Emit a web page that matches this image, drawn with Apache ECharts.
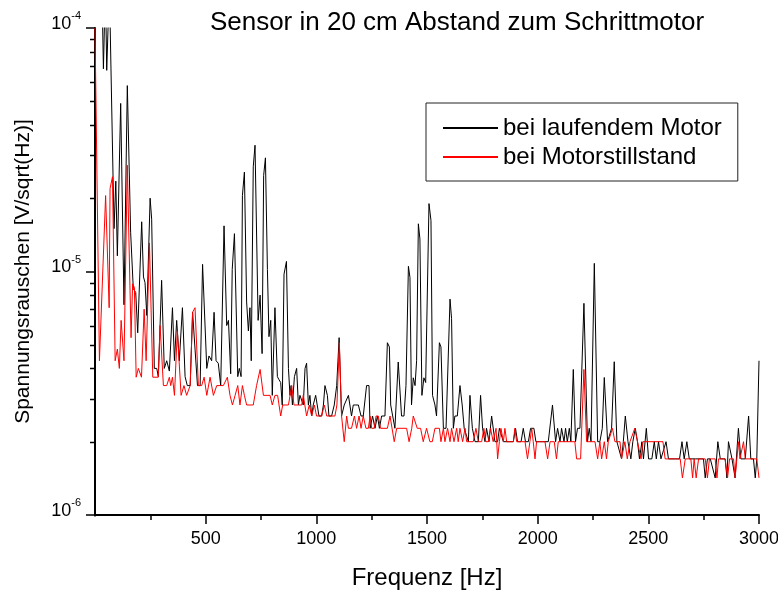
<!DOCTYPE html>
<html><head><meta charset="utf-8">
<script src="https://cdn.jsdelivr.net/npm/echarts@6/dist/echarts.min.js"></script>
<style>html,body{margin:0;padding:0;background:#fff}#c{width:778px;height:592px}</style>
</head><body><div id="c"></div>
<script>
const chartTitle = 'Sensor in 20 cm Abstand zum Schrittmotor';
const xAxisName = 'Frequenz [Hz]';
const yAxisName = 'Spannungsrauschen [V/sqrt(Hz)]';
const seriesNames = ['bei laufendem Motor', 'bei Motorstillstand'];
// values in µV/sqrt(Hz) (1 = 10^-6 V/sqrt(Hz))
const freqMotorOn = [0,12,25,38,47,53,65,86,94,101,116,131,146,161,173,184,193,211,219,226,234,249,256,268,279,286,301,313,324,336,350,359,369,381,395,407,417,430,441,452,463,475,486,505,515,527,538,547,557,568,583,595,603,613,620,630,645,652,660,666,675,685,693,700,706,715,723,737,746,755,762,770,779,786,794,801,813,824,831,839,846,854,865,874,881,886,892,901,911,919,926,934,941,949,956,964,971,979,986,997,1004,1012,1024,1032,1039,1050,1057,1069,1081,1092,1103,1114,1126,1145,1159,1167,1178,1190,1202,1212,1227,1238,1243,1254,1265,1276,1285,1295,1310,1321,1330,1336,1345,1355,1370,1385,1396,1405,1416,1423,1430,1438,1446,1453,1461,1468,1477,1486,1494,1509,1518,1525,1536,1543,1556,1563,1574,1586,1604,1611,1619,1626,1637,1649,1659,1668,1676,1687,1694,1705,1717,1732,1742,1751,1762,1769,1780,1792,1799,1807,1819,1827,1836,1845,1890,1900,1909,1925,1935,1945,1958,1968,1983,1992,2048,2067,2081,2090,2101,2108,2119,2126,2134,2143,2150,2161,2171,2180,2191,2209,2225,2233,2241,2256,2271,2281,2292,2301,2316,2323,2334,2346,2358,2367,2379,2387,2396,2408,2421,2430,2441,2451,2460,2471,2478,2491,2501,2516,2527,2536,2546,2557,2566,2580,2591,2607,2622,2641,2652,2662,2674,2685,2712,2749,2757,2767,2780,2802,2814,2825,2847,2855,2862,2878,2892,2907,2918,2938,2953,2963,2975,2983,2990,3000];
const motorOn = [300,300,300,68,150,67,150,15,23.5,11.6,49,7.3,58,14.5,8.5,8.2,5.6,16,9.5,9.0,6.6,20,16.4,4.0,4.0,3.7,9.2,4.0,4.3,3.9,7.1,4.3,6.3,4.3,7.1,3.7,3.4,3.4,6.8,4.8,3.4,3.4,10.7,4.0,4.5,4.3,6.8,4.3,4.2,3.4,15.4,6.0,6.3,3.8,10.2,14.3,3.7,4.0,3.7,20.5,25.6,7.5,5.7,7.1,4.3,26.9,33,6.3,8.0,4.6,24.8,29.3,10.2,5.4,6.3,3.1,7.1,3.7,3.6,3.5,2.83,9.75,11.0,4.0,3.1,3.4,2.83,3.7,4.0,2.83,3.1,3.1,2.83,4.0,4.2,2.83,3.1,2.55,2.83,3.1,2.83,2.55,2.55,2.83,3.4,3.1,2.55,2.55,2.83,3.4,5.35,2.55,2.83,3.1,2.55,2.83,2.83,2.83,2.55,2.55,3.4,3.4,2.27,2.55,2.27,2.55,2.27,2.55,2.55,5.1,4.9,2.83,2.83,2.27,4.25,2.55,2.55,3.4,10.5,9.45,2.83,3.66,3.4,4.3,15.7,13.6,3.1,3.66,3.5,19,16.2,3.1,2.83,2.55,5.1,4.9,2.27,2.27,7.7,6.4,2.27,2.55,2.55,3.4,2.83,2.27,2.27,2.0,3.1,2.27,2.0,2.0,3.1,2.27,2.0,2.27,2.0,2.55,2.55,2.0,2.0,2.27,2.27,2.0,2.0,2.27,2.0,2.0,2.27,2.0,2.0,2.27,2.27,2.0,2.0,2.83,2.0,2.27,2.0,2.27,2.0,2.27,2.0,2.27,2.0,3.96,2.0,2.27,2.27,7.4,2.0,2.27,2.0,10.8,2.0,2.0,2.27,3.67,2.0,2.0,2.27,4.26,2.0,2.0,1.7,2.0,2.55,2.0,1.7,2.0,2.27,2.0,1.7,2.0,1.7,2.27,1.7,1.7,2.0,1.7,2.0,1.7,1.7,2.0,1.7,1.7,1.7,1.7,2.0,1.7,2.0,1.7,1.7,1.7,1.42,1.7,1.7,1.42,2.0,1.7,1.7,1.42,2.0,1.7,1.42,2.27,1.7,1.7,2.55,1.7,1.7,1.42,1.7,4.3];
const freqMotorOff = [0,20,48,64,68,79,91,101,110,118,131,146,163,170,178,186,196,210,222,231,246,261,286,294,309,324,336,342,350,359,372,389,402,414,430,441,452,467,482,493,505,520,535,550,565,580,598,610,621,633,645,655,666,675,685,715,730,746,761,791,801,813,825,839,848,874,889,899,934,941,956,968,979,991,1001,1024,1036,1047,1084,1093,1104,1114,1126,1137,1145,1159,1172,1182,1193,1202,1212,1224,1235,1243,1250,1261,1270,1280,1290,1321,1333,1340,1352,1363,1408,1419,1431,1438,1446,1456,1471,1483,1498,1513,1524,1536,1556,1563,1574,1581,1593,1604,1611,1622,1634,1641,1649,1661,1672,1679,1709,1721,1732,1747,1757,1766,1777,1787,1799,1812,1819,1827,1834,1845,1852,1860,1890,1897,1905,1943,1954,1965,1973,1980,1988,1995,2033,2045,2056,2075,2085,2093,2168,2176,2194,2209,2221,2259,2271,2281,2289,2301,2311,2319,2338,2349,2372,2379,2394,2405,2417,2439,2451,2467,2476,2566,2576,2644,2654,2667,2692,2700,2707,2716,2727,2757,2767,2776,2802,2810,2817,2847,2858,2867,2885,2892,2900,2907,2914,2930,2938,2990,3000];
const motorOff = [100,4.3,20.5,7.1,21.9,24.5,4.3,4.8,4.0,6.3,4.3,27.3,5.35,8.9,8.6,3.68,4.0,3.68,7.0,4.3,13.1,3.68,3.68,6.0,3.4,3.4,3.68,3.4,3.68,3.1,5.7,3.1,3.4,3.1,3.4,6.8,7.1,3.4,3.4,3.68,3.1,3.68,3.1,3.4,3.4,3.4,3.68,3.1,2.83,3.1,3.4,2.83,3.4,3.1,2.83,2.83,3.4,3.96,3.1,3.1,2.83,3.1,3.1,2.55,2.83,2.83,3.4,2.83,2.83,3.1,2.55,2.83,2.55,2.83,2.55,2.55,2.83,2.55,2.55,2.83,5.1,2.55,2.0,2.55,2.27,2.27,2.55,2.27,2.55,2.27,2.55,2.27,2.27,2.55,2.27,2.27,2.55,2.55,2.27,2.27,2.55,2.55,2.0,2.27,2.27,2.0,2.27,2.55,2.55,2.27,2.27,2.0,2.27,2.0,2.0,2.27,2.27,2.0,2.27,2.0,2.27,2.0,2.27,2.0,2.27,2.0,2.27,2.0,2.27,2.0,2.0,2.27,2.0,2.0,2.27,2.0,2.0,2.27,2.0,2.27,1.7,2.0,2.27,2.0,2.27,2.0,2.0,2.27,2.0,2.0,1.7,2.0,2.27,2.0,1.7,2.0,2.0,1.7,2.0,2.0,1.7,2.0,2.0,1.7,1.7,3.96,2.0,2.0,1.7,2.0,1.7,2.0,1.7,2.0,2.27,2.0,2.0,1.7,2.0,1.7,2.0,2.27,2.0,1.7,2.0,2.0,1.7,1.7,1.42,1.7,1.7,1.42,1.7,1.42,1.7,1.7,1.42,1.7,1.7,1.42,1.7,1.7,1.42,1.7,1.7,1.42,1.7,2.0,1.7,2.0,1.7,1.7,1.42];
const yMinorTicks = [2,3,4,5,6,7,8,9,20,30,40,50,60,70,80,90];
const xMin = 0, xMax = 3000, xInterval = 500;
const yMin = 1, yMax = 100;

const FONT = '"Liberation Sans", Arial, sans-serif';
const chart = echarts.init(document.getElementById('c'), null, {renderer: 'canvas'});
const pairs = (f, v) => f.map((x, i) => [x, v[i]]);

chart.setOption({
  animation: false,
  backgroundColor: '#fff',
  textStyle: {fontFamily: FONT},
  title: {
    text: chartTitle, left: 457, top: 10, padding: 0, textAlign: 'center',
    textStyle: {fontSize: 26, fontWeight: 'normal', color: '#000', fontFamily: FONT}
  },
  grid: {left: 95, right: 19, top: 28, bottom: 77, containLabel: false, outerBoundsMode: 'none'},
  legend: {
    left: 426, top: 103, orient: 'vertical',
    padding: [13, 16, 12, 16], borderColor: '#222', borderWidth: 1,
    itemWidth: 55, itemHeight: 14, itemGap: 5,
    itemStyle: {opacity: 0},
    textStyle: {fontSize: 24, color: '#000', fontFamily: FONT},
    data: seriesNames
  },
  xAxis: {
    type: 'value', min: xMin, max: xMax, interval: xInterval,
    name: xAxisName, nameLocation: 'middle', nameGap: 51,
    nameTextStyle: {fontSize: 24, color: '#000', fontFamily: FONT},
    axisLine: {lineStyle: {color: '#000', width: 2}},
    axisTick: {length: 9, lineStyle: {color: '#000', width: 1.5}},
    minorTick: {show: true, splitNumber: 2, length: 5, lineStyle: {color: '#000', width: 1.5}},
    axisLabel: {fontSize: 18, color: '#000', margin: 15, fontFamily: FONT,
      formatter: v => v === 0 ? '' : String(v)},
    splitLine: {show: false}
  },
  yAxis: {
    type: 'log', logBase: 10, min: yMin, max: yMax,
    name: yAxisName, nameLocation: 'middle', nameGap: 61, nameRotate: 90,
    nameTextStyle: {fontSize: 21, color: '#000', fontFamily: FONT},
    axisLine: {lineStyle: {color: '#000', width: 2}},
    axisTick: {length: 9, lineStyle: {color: '#000', width: 1.5}},
    axisLabel: {
      margin: 14, color: '#000', padding: [0, 0, 8, 0],
      formatter: v => '{b|10}{s|' + (Math.round(Math.log10(v)) - 6) + '}',
      rich: {
        b: {fontSize: 18, color: '#000', fontFamily: FONT, lineHeight: 20},
        s: {fontSize: 11, color: '#000', fontFamily: FONT, padding: [0, 0, 16, 0]}
      }
    },
    splitLine: {show: false}
  },
  series: [
    {name: seriesNames[0], type: 'line', data: pairs(freqMotorOn, motorOn), symbol: 'none',
     lineStyle: {color: '#000', width: 1}, itemStyle: {color: '#000'}, clip: true},
    {name: seriesNames[1], type: 'line', data: pairs(freqMotorOff, motorOff), symbol: 'none',
     lineStyle: {color: '#ff0000', width: 1}, itemStyle: {color: '#ff0000'}, clip: true}
  ]
});

// logarithmic minor ticks (2..9 per decade), placed through the axis scale
const axisX = chart.convertToPixel({xAxisIndex: 0}, xMin);
const axisY = chart.convertToPixel({yAxisIndex: 0}, yMin);
const graphics = yMinorTicks.map(v => {
  const y = Math.round(chart.convertToPixel({yAxisIndex: 0}, v)) + 0.5;
  return {type: 'line', shape: {x1: axisX - 5, y1: y, x2: axisX, y2: y},
          style: {stroke: '#000', lineWidth: 1.5}, silent: true};
});
// the reference shows no tick below the axis at the origin
graphics.push({type: 'rect', shape: {x: axisX - 2, y: axisY + 1.5, width: 4, height: 10},
  style: {fill: '#fff'}, silent: true, z: 100});
chart.setOption({graphic: graphics});
</script>
</body></html>
